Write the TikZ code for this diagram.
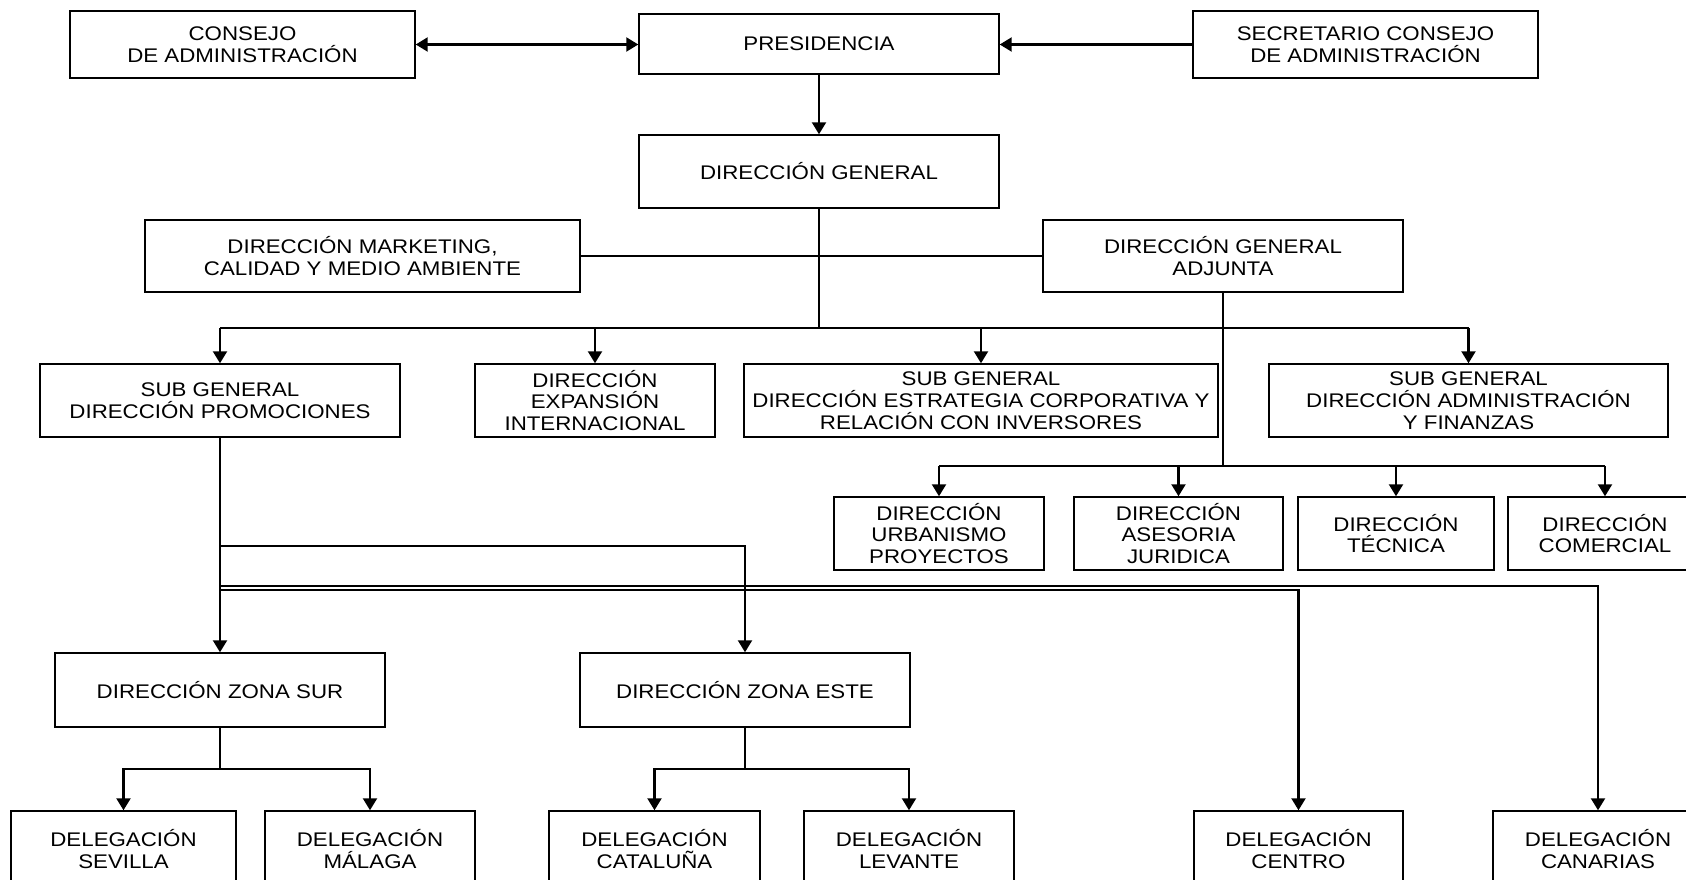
\documentclass[tikz,border=0pt]{standalone}
\usepackage{fontspec}
\setmainfont{Liberation Sans}[FakeStretch=1.13]
\usetikzlibrary{arrows.meta}
\newcommand\orgbox[6]{\node[box, minimum width=#4*0.75pt, minimum height=#5*0.75pt] (#1) at (#2,#3) {#6};}
\begin{document}
\begin{tikzpicture}[x=0.75pt,y=-0.75pt,
  box/.style={draw, line width=1.1pt, align=center, inner sep=0pt, font=\fontsize{14.8}{16.4}\selectfont},
  conn/.style={line width=1.7pt},
  arr/.style={conn, -{Triangle[length=9pt,width=10.5pt]}},
  darr/.style={conn, {Triangle[length=9pt,width=10.5pt]}-{Triangle[length=9pt,width=10.5pt]}}]
\useasboundingbox (0,0) rectangle (1686,880);
\clip (0,0) rectangle (1686,880);
\fill[white] (0,0) rectangle (1686,880);
\orgbox{consejo}{242.5}{44.5}{345}{67}{CONSEJO\\DE ADMINISTRACIÓN}
\orgbox{pres}{819}{44}{360}{60}{PRESIDENCIA}
\orgbox{secre}{1365.5}{44.5}{345}{67}{SECRETARIO CONSEJO\\DE ADMINISTRACIÓN}
\orgbox{dg}{819}{171.5}{360}{73}{DIRECCIÓN GENERAL}
\orgbox{mkt}{362.5}{256}{435}{72}{DIRECCIÓN MARKETING,\\CALIDAD Y MEDIO AMBIENTE}
\orgbox{dga}{1223}{256}{360}{72}{DIRECCIÓN GENERAL\\ADJUNTA}
\orgbox{prom}{220}{400.5}{360}{73}{SUB GENERAL\\DIRECCIÓN PROMOCIONES}
\orgbox{exp}{595}{400.5}{240}{73}{DIRECCIÓN\\EXPANSIÓN\\INTERNACIONAL}
\orgbox{estr}{981}{400.5}{474}{73}{SUB GENERAL\\DIRECCIÓN ESTRATEGIA CORPORATIVA Y\\RELACIÓN CON INVERSORES}
\orgbox{fin}{1468.5}{400.5}{399}{73}{SUB GENERAL\\DIRECCIÓN ADMINISTRACIÓN\\Y FINANZAS}
\orgbox{urb}{939}{533.5}{210}{73}{DIRECCIÓN\\URBANISMO\\PROYECTOS}
\orgbox{ases}{1178.5}{533.5}{209}{73}{DIRECCIÓN\\ASESORIA\\JURIDICA}
\orgbox{tec}{1396}{533.5}{196}{73}{DIRECCIÓN\\TÉCNICA}
\orgbox{com}{1605}{533.5}{194}{73}{DIRECCIÓN\\COMERCIAL}
\orgbox{zsur}{220}{690}{330}{74}{DIRECCIÓN ZONA SUR}
\orgbox{zeste}{745}{690}{330}{74}{DIRECCIÓN ZONA ESTE}
\orgbox{sev}{123.5}{849}{225}{76}{DELEGACIÓN\\SEVILLA}
\orgbox{mal}{370}{849}{210}{76}{DELEGACIÓN\\MÁLAGA}
\orgbox{cat}{654.5}{849}{211}{76}{DELEGACIÓN\\CATALUÑA}
\orgbox{lev}{909}{849}{210}{76}{DELEGACIÓN\\LEVANTE}
\orgbox{cen}{1298.5}{849}{209}{76}{DELEGACIÓN\\CENTRO}
\orgbox{can}{1598}{849}{210}{76}{DELEGACIÓN\\CANARIAS}
% top
\draw[darr] (consejo.east) -- (consejo.east -| pres.west);
\draw[arr] (secre.west) -- (secre.west -| pres.east);
\draw[arr] (pres.south) -- (dg.north);
\draw[conn] (mkt.east) -- (dga.west);
% bus 1
\coordinate (bus1) at (819,328);
\draw[conn] (dg.south) -- (bus1);
\draw[conn] (prom.north |- bus1) -- (fin.north |- bus1);
\foreach \n in {prom,exp,estr,fin} \draw[arr] (\n.north |- bus1) -- (\n.north);
% bus 2
\coordinate (bus2) at (1223,466);
\draw[conn] (dga.south) -- (bus2);
\draw[conn] (urb.north |- bus2) -- (com.north |- bus2);
\foreach \n in {urb,ases,tec,com} \draw[arr] (\n.north |- bus2) -- (\n.north);
% promociones
\draw[arr] (prom.south) -- (zsur.north);
\coordinate (je) at (220,546);
\draw[arr] (je) -| (zeste.north);
\coordinate (jcan) at (220,586);
\draw[arr] (jcan) -| (can.north);
\coordinate (jcen) at (220,590);
\draw[arr] (jcen) -| (cen.north);
% zona sur
\coordinate (zs) at (220,769);
\draw[conn] (zsur.south) -- (zs);
\draw[arr] (zs) -| (sev.north);
\draw[arr] (zs) -| (mal.north);
% zona este
\coordinate (ze) at (745,769);
\draw[conn] (zeste.south) -- (ze);
\draw[arr] (ze) -| (cat.north);
\draw[arr] (ze) -| (lev.north);
\end{tikzpicture}
\end{document}
